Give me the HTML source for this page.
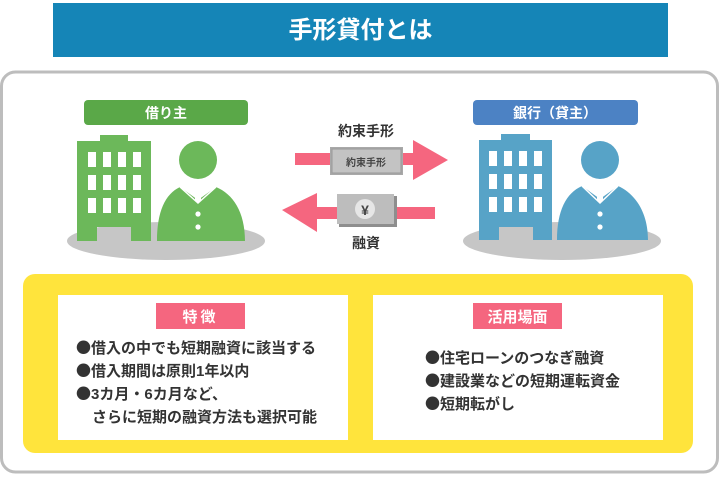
<!DOCTYPE html>
<html><head><meta charset="utf-8"><style>
html,body{margin:0;padding:0;background:#fff;}
svg{display:block;}
text{font-family:"Liberation Sans","Noto Sans CJK JP",sans-serif;font-weight:bold;}
.b{font-family:"Noto Sans CJK JP",sans-serif;}
</style></head><body>
<svg width="720" height="479" viewBox="0 0 720 479" xmlns="http://www.w3.org/2000/svg">
<rect x="0" y="0" width="720" height="479" fill="#fff"/>
<rect x="53" y="3" width="615" height="54" fill="#1585b7"/>
<text x="360.5" y="38" font-size="24" fill="#fff" text-anchor="middle">手形貸付とは</text>
<rect x="1.5" y="72" width="716" height="400" rx="14" fill="#fff" stroke="#bdbdbd" stroke-width="3"/>

<!-- left -->
<ellipse cx="166" cy="241" rx="99" ry="19" fill="#c6c6c6"/>
<rect x="84" y="100" width="164" height="25" rx="4" fill="#5aa848"/>
<text x="166" y="118" font-size="14" fill="#fff" text-anchor="middle">借り主</text>
<rect x="100" y="135" width="28" height="8" fill="#6cb85a"/>
<path d="M77 141H151V241H131V227H97V241H77Z" fill="#6cb85a"/>
<g fill="#fff">
<rect x="88" y="152" width="8" height="15"/><rect x="103" y="152" width="8" height="15"/><rect x="118" y="152" width="8" height="15"/><rect x="133" y="152" width="8" height="15"/>
<rect x="88" y="175" width="8" height="15"/><rect x="103" y="175" width="8" height="15"/><rect x="118" y="175" width="8" height="15"/><rect x="133" y="175" width="8" height="15"/>
<rect x="88" y="198" width="8" height="15"/><rect x="103" y="198" width="8" height="15"/><rect x="118" y="198" width="8" height="15"/><rect x="133" y="198" width="8" height="15"/>
</g>
<circle cx="198" cy="160" r="19" fill="#6cb85a"/>
<path d="M157 241C157 212 165 194 180 187L198 200L216 187C233 194 245 212 245 241Z" fill="#6cb85a"/>
<path d="M195 188L201 188L201 200L198 203L195 200Z" fill="#fff"/>
<path d="M180 187L198 203L216 187" fill="none" stroke="#fff" stroke-width="1.5"/>
<circle cx="198" cy="214" r="2.6" fill="#fff"/><circle cx="198" cy="227" r="2.6" fill="#fff"/>

<!-- right -->
<ellipse cx="562" cy="241" rx="99" ry="19" fill="#c6c6c6"/>
<rect x="473" y="100" width="165" height="25" rx="4" fill="#4c82c4"/>
<text x="555" y="118" font-size="14" fill="#fff" text-anchor="middle">銀行（貸主）</text>
<rect x="501" y="134" width="29" height="8" fill="#57a3c7"/>
<path d="M479 140H552V240H533V227H499V240H479Z" fill="#57a3c7"/>
<g fill="#fff">
<rect x="489" y="151" width="8" height="15"/><rect x="504" y="151" width="8" height="15"/><rect x="519" y="151" width="8" height="15"/><rect x="534" y="151" width="8" height="15"/>
<rect x="489" y="174" width="8" height="15"/><rect x="504" y="174" width="8" height="15"/><rect x="519" y="174" width="8" height="15"/><rect x="534" y="174" width="8" height="15"/>
<rect x="489" y="197" width="8" height="15"/><rect x="504" y="197" width="8" height="15"/><rect x="519" y="197" width="8" height="15"/><rect x="534" y="197" width="8" height="15"/>
</g>
<circle cx="600" cy="160" r="19" fill="#57a3c7"/>
<path d="M557 240C557 211 566 193 582 186L600 199L618 186C634 193 648 211 648 240Z" fill="#57a3c7"/>
<path d="M597 187L603 187L603 200L600 203L597 200Z" fill="#fff"/>
<path d="M582 186L600 203L618 186" fill="none" stroke="#fff" stroke-width="1.5"/>
<circle cx="600" cy="214" r="2.6" fill="#fff"/><circle cx="600" cy="227" r="2.6" fill="#fff"/>

<!-- arrows -->
<text x="366" y="136" font-size="14" fill="#333" text-anchor="middle">約束手形</text>
<rect x="295" y="153" width="125" height="12" fill="#f5667f"/>
<path d="M413 140L448 160L413 180Z" fill="#f5667f"/>
<rect x="330" y="147" width="73" height="28" fill="#a9a9a9"/>
<rect x="332" y="149" width="69" height="24" fill="#c3c3c3" stroke="#9a9a9a" stroke-width="1"/>
<text x="366" y="166" font-size="10" fill="#444" text-anchor="middle">約束手形</text>

<rect x="310" y="207" width="125" height="12" fill="#f5667f"/>
<path d="M282 210L317 193L317 232Z" fill="#f5667f"/>
<rect x="339" y="196" width="58" height="31" fill="#8e8e8e"/>
<rect x="337" y="194" width="57" height="30" fill="#bdbdbd"/>
<circle cx="365" cy="209" r="10" fill="#e6e6e6"/>
<text x="365" y="215" font-size="14" fill="#444" text-anchor="middle">¥</text>
<text x="366" y="248" font-size="14" fill="#333" text-anchor="middle">融資</text>

<!-- yellow -->
<rect x="23" y="274" width="670" height="179" rx="12" fill="#ffe43c"/>
<rect x="58" y="295" width="290" height="145" fill="#fff"/>
<rect x="373" y="295" width="290" height="145" fill="#fff"/>
<rect x="156" y="303" width="89" height="26" fill="#f5667f"/>
<text x="200.5" y="322" font-size="15" fill="#fff" text-anchor="middle" letter-spacing="3">特徴</text>
<rect x="473" y="303" width="89" height="26" fill="#f5667f"/>
<text x="517.5" y="322" font-size="15" fill="#fff" text-anchor="middle">活用場面</text>
<g font-size="15" fill="#333">
<text x="76" y="353"><tspan class="b">●</tspan>借入の中でも短期融資に該当する</text>
<text x="76" y="376"><tspan class="b">●</tspan>借入期間は原則1年以内</text>
<text x="76" y="399"><tspan class="b">●</tspan>3カ月・6カ月など、</text>
<text x="92" y="422">さらに短期の融資方法も選択可能</text>
<text x="425" y="363"><tspan class="b">●</tspan>住宅ローンのつなぎ融資</text>
<text x="425" y="386"><tspan class="b">●</tspan>建設業などの短期運転資金</text>
<text x="425" y="409"><tspan class="b">●</tspan>短期転がし</text>
</g>
</svg>
</body></html>
